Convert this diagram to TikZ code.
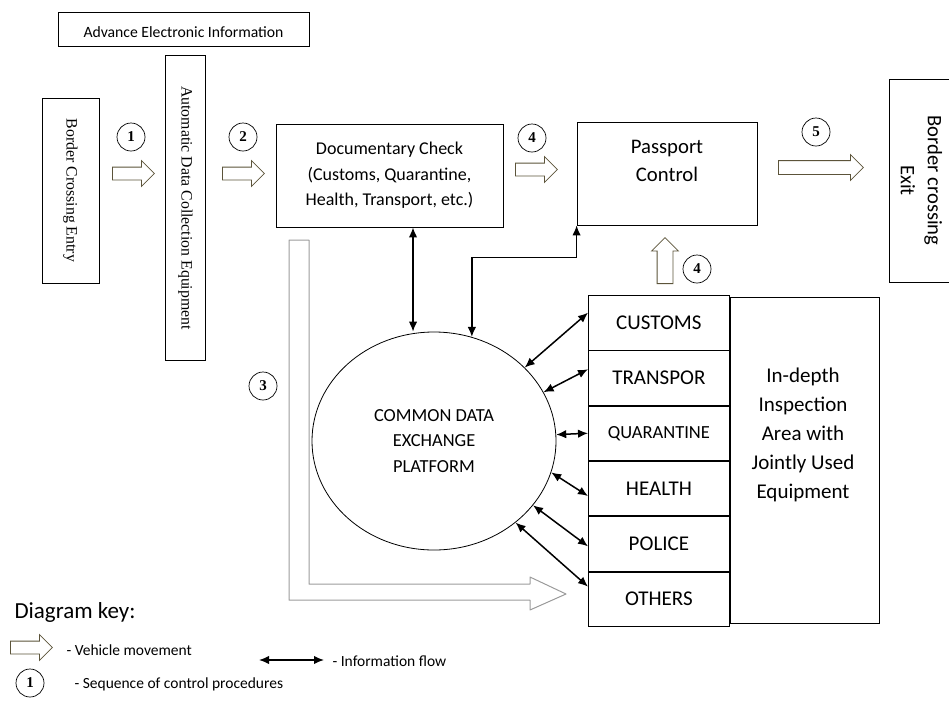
\documentclass[tikz,border=0pt]{standalone}
\usepackage{fontspec}
\setmainfont{Carlito}
\newfontfamily\seriffont{Liberation Serif}
\usepackage{tikz}
\usetikzlibrary{arrows.meta,positioning,shapes.geometric,shapes.arrows}

\definecolor{moveline}{RGB}{92,84,58}
\definecolor{routegray}{RGB}{155,155,155}

\begin{document}
\begin{tikzpicture}[x=1pt, y=-1pt,
    box/.style={draw, line width=0.8pt, inner sep=0pt, align=center},
    vbox/.style={box, rotate=-90, font=\fontsize{15.8}{19}\selectfont\seriffont},
    agbox/.style={box, minimum width=141, minimum height=54.5, font=\fontsize{21}{24}\selectfont},
    num/.style={draw, circle, line width=0.7pt, minimum size=28, inner sep=0pt,
                font=\fontsize{15}{15}\selectfont\seriffont\bfseries},
    move/.style={draw=moveline, line width=0.8pt, fill=white, single arrow, anchor=tail,
                single arrow head extend=6.5pt, minimum height=42, inner xsep=0pt, inner ysep=6pt},
    info/.style={{Latex[length=10pt,width=8.5pt]}-{Latex[length=10pt,width=8.5pt]}, line width=1.5pt},
    keytxt/.style={anchor=west, font=\fontsize{15.5}{18}\selectfont}
  ]
    \useasboundingbox (0,0) rectangle (949,702);

    % stations along the road
    \node[box, minimum width=251, minimum height=34, font=\fontsize{15.7}{18}\selectfont] (aei) at (183.5,29.5)
        {\raisebox{-8pt}[0pt][0pt]{Advance Electronic Information}};
    \node[vbox, minimum width=185, minimum height=57] (bce) at (70.5,190.5) {Border Crossing Entry};
    \node[vbox, minimum width=305, minimum height=40] (adc) at (185.5,208) {Automatic Data Collection Equipment};
    \node[box, minimum width=227, minimum height=103, font=\fontsize{18}{25.5}\selectfont] (dc) at (389.5,175.5)
        {Documentary Check\\(Customs, Quarantine,\\Health, Transport, etc.)};
    \node[box, minimum width=180, minimum height=103] (pc) at (667,173.5) {};
    \node[align=center, font=\fontsize{20.7}{28}\selectfont] (pct) at (667,161) {Passport\\Control};
    \node[box, rotate=-90, minimum width=203, minimum height=65, font=\fontsize{20.6}{27}\selectfont] (bcx) at (921.5,180.5)
        {Border crossing\\Exit};

    % data platform and agencies
    \node[draw, ellipse, line width=0.8pt, minimum width=244, minimum height=218, inner sep=0pt,
          align=center, font=\fontsize{18.4}{25.5}\selectfont] (cdep) at (434,441) {COMMON DATA\\EXCHANGE\\PLATFORM};
    \node[agbox, anchor=north west] (ag1) at (588,295) {CUSTOMS};
    \node[agbox, below=0pt of ag1] (ag2) {TRANSPOR};
    \node[agbox, below=0pt of ag2, font=\fontsize{18.5}{21}\selectfont] (ag3) {QUARANTINE};
    \node[agbox, below=0pt of ag3] (ag4) {HEALTH};
    \node[agbox, below=0pt of ag4] (ag5) {POLICE};
    \node[agbox, below=0pt of ag5] (ag6) {OTHERS};
    \node[box, anchor=north west, minimum width=149, minimum height=326] (insp) at (729.5,297) {};
    \node[align=center, font=\fontsize{21}{29}\selectfont] (inspt) at (803,435)
        {In-depth\\Inspection\\Area with\\Jointly Used\\Equipment};

    % vehicle movement
    \node[move] (m1) at (112,173.5) {};
    \node[move] (m2) at (222,173.5) {};
    \node[move] (m4a) at (515,169.5) {};
    \node[move, minimum height=85, inner ysep=6.5pt, single arrow head extend=6pt] (m5) at (778,167.5) {};
    \node[move, rotate=90, minimum height=46, inner ysep=7.5pt, single arrow head extend=5.5pt] (m4b) at (665,284) {};
    \draw[routegray, line width=1pt, line join=round]
        (289,240) -- (289,600) -- (530,600) -- (530,610) -- (566,594) -- (530,577)
        -- (530,584) -- (309,584) -- (309,240) -- cycle;

    % sequence numbers
    \node[num] (n1) at (131,137) {1};
    \node[num] (n2) at (243,137) {2};
    \node[num] (n3) at (263,386) {3};
    \node[num] (n4a) at (532,138) {4};
    \node[num] (n4b) at (697,269) {4};
    \node[num] (n5) at (816,132) {5};

    % information flow
    \draw[info] ([xshift=23.5pt]dc.south) -- ([xshift=23.5pt]dc.south |- cdep.north);
    \draw[info] (cdep.70) |- ([yshift=-32pt]pc.south west) -- (pc.south west);
    \draw[info] (cdep.39) -- (ag1.172);
    \draw[info] (cdep.24) -- (ag2.173);
    \draw[info] (cdep.3) -- (ag3.west);
    \draw[info] (cdep.-15) -- (ag4.186);
    \draw[info] (cdep.-33) -- (ag5.182);
    \draw[info] (cdep.-45) -- (ag6.170);

    % key
    \node[anchor=west, font=\fontsize{23}{26}\selectfont] (key) at (11,612) {Diagram key:};
    \node[move] (km) at (10,647.5) {};
    \node[keytxt] (kmt) at (63,650) {- Vehicle movement};
    \coordinate (kia) at (259,660);
    \coordinate (kib) at (324,660);
    \draw[info] (kia) -- (kib);
    \node[keytxt] (kit) at (329,661) {- Information flow};
    \node[num] (kn) at (30,683) {1};
    \node[keytxt] (knt) at (71,684) {- Sequence of control procedures};
\end{tikzpicture}
\end{document}
